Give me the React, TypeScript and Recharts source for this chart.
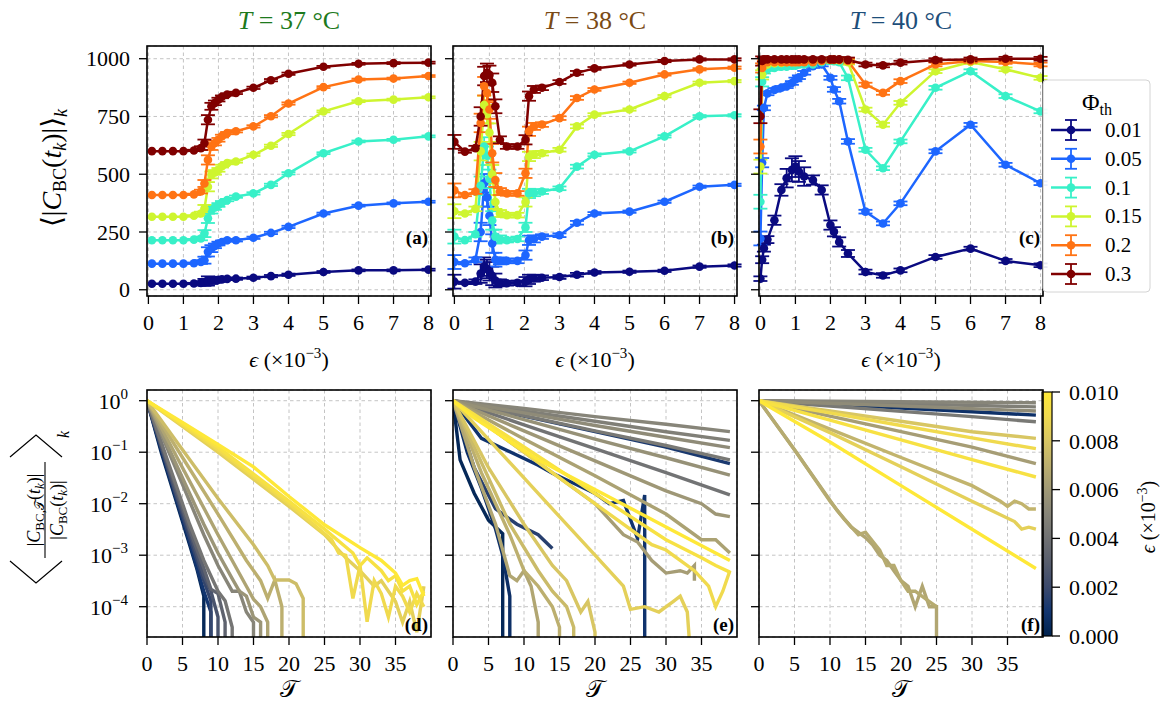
import { Bar, BarChart, CartesianGrid, ComposedChart, ErrorBar, Line, XAxis, YAxis } from 'recharts'

const SERIF = "'Liberation Serif', 'DejaVu Serif', serif"
const GRID = '#bdbdbd'
const TICK_LINE = { stroke: '#000', strokeWidth: 1.3 }

// ---------- top row: <|C_BC|> vs eps, one line per Phi_th ----------
const PHI_LABELS = ['0.01', '0.05', '0.1', '0.15', '0.2', '0.3']
const PHI_COLORS = ['#0a0a80', '#1d66ff', '#38f0c8', '#cef52f', '#ff7314', '#800000']
const EPS_TICKS = [0, 1, 2, 3, 4, 5, 6, 7, 8]
const C_TICKS = [0, 250, 500, 750, 1000]

// (a) T = 37 °C
const aEps = [0.1, 0.4, 0.7, 1.0, 1.3, 1.5, 1.6, 1.7, 1.8, 1.9, 2.0, 2.1, 2.25, 2.5, 3, 3.5, 4, 5, 6, 7, 8]
const a01 = [26, 26, 26, 26, 27, 29, 32, 38, 40, 42, 43, 45, 47, 48, 52, 59, 65, 77, 84, 84, 87]
const a05 = [113, 113, 113, 113, 115, 120, 128, 164, 178, 190, 200, 207, 214, 214, 225, 246, 272, 330, 364, 374, 381]
const a10 = [214, 214, 214, 214, 217, 222, 243, 309, 345, 356, 367, 378, 388, 403, 417, 454, 504, 591, 642, 649, 664]
const a15 = [316, 316, 316, 316, 320, 330, 352, 446, 497, 508, 519, 535, 548, 555, 584, 623, 674, 772, 816, 823, 833]
const a20 = [410, 410, 410, 410, 413, 425, 460, 562, 620, 635, 649, 665, 678, 686, 707, 751, 806, 877, 910, 914, 925]
const a30 = [600, 600, 600, 600, 603, 613, 635, 736, 794, 809, 823, 835, 845, 852, 874, 907, 935, 965, 978, 981, 983]
const aErr = [0, 0, 0, 0, 3, 8, 15, 20, 15, 10, 8, 6, 5, 5, 5, 5, 5, 4, 4, 4, 4]

// (b) T = 38 °C
const bEps = [0, 0.3, 0.6, 0.75, 0.85, 0.93, 1.0, 1.08, 1.17, 1.3, 1.5, 1.8, 2.03, 2.13, 2.27, 2.5, 3, 3.5, 4, 5, 6, 7, 8]
const b01 = [35, 30, 35, 70, 100, 90, 80, 60, 40, 30, 28, 30, 35, 45, 50, 52, 55, 65, 75, 78, 82, 100, 105]
const b05 = [120, 115, 130, 250, 461, 400, 320, 200, 130, 125, 125, 125, 150, 214, 220, 230, 236, 290, 330, 338, 381, 446, 454]
const b10 = [230, 215, 240, 450, 620, 580, 480, 300, 230, 220, 215, 220, 270, 417, 420, 425, 439, 533, 584, 599, 664, 751, 755]
const b15 = [340, 330, 350, 600, 800, 760, 680, 500, 380, 330, 323, 323, 380, 577, 585, 591, 606, 707, 758, 780, 838, 896, 903]
const b20 = [430, 410, 425, 722, 881, 852, 780, 591, 475, 425, 417, 417, 504, 686, 707, 715, 743, 830, 867, 896, 932, 954, 961]
const b30 = [640, 598, 613, 750, 925, 939, 930, 896, 794, 649, 620, 620, 649, 838, 867, 874, 899, 939, 958, 975, 990, 997, 997]
const bErr = [30, 5, 10, 40, 40, 40, 40, 40, 30, 15, 10, 10, 20, 20, 15, 10, 8, 8, 6, 5, 5, 5, 5]

// (c) T = 40 °C
const cEps = [0, 0.05, 0.1, 0.2, 0.4, 0.6, 0.75, 0.9, 1.0, 1.1, 1.25, 1.5, 1.75, 2.0, 2.1, 2.25, 2.5, 3, 3.5, 4, 5, 6, 7, 8]
const c01 = [48, 130, 180, 217, 301, 432, 483, 519, 533, 512, 490, 475, 432, 280, 251, 207, 157, 77, 62, 84, 142, 178, 125, 106]
const c05 = [222, 550, 787, 850, 865, 874, 881, 895, 910, 920, 939, 968, 975, 917, 867, 816, 642, 338, 287, 374, 599, 714, 541, 461]
const c10 = [381, 900, 946, 955, 960, 965, 965, 970, 970, 975, 975, 975, 985, 990, 990, 985, 917, 606, 526, 642, 874, 946, 838, 772]
const c15 = [533, 930, 968, 975, 980, 982, 985, 985, 985, 988, 990, 990, 990, 995, 995, 993, 985, 780, 714, 809, 946, 986, 954, 917]
const c20 = [620, 960, 983, 985, 985, 985, 985, 985, 985, 985, 985, 985, 990, 995, 995, 995, 990, 888, 852, 903, 975, 990, 986, 975]
const c30 = [751, 990, 997, 997, 997, 997, 997, 997, 997, 997, 997, 997, 997, 997, 997, 997, 995, 975, 971, 983, 994, 997, 1000, 1000]
const cErr = [30, 20, 10, 8, 8, 8, 8, 8, 8, 8, 8, 8, 8, 8, 10, 10, 10, 8, 8, 8, 8, 8, 8, 8]
const cErrNavy = [10, 15, 15, 15, 20, 25, 40, 50, 45, 45, 40, 20, 20, 20, 20, 20, 15, 10, 10, 8, 8, 8, 8, 8]

// ---------- bottom row: decay curves [T, ratio], coloured by eps ----------
const T_TICKS = [0, 5, 10, 15, 20, 25, 30, 35]
const LOG_TICKS = [1e-4, 1e-3, 1e-2, 1e-1, 1]

const d01 = [[0, 1], [2, 0.1], [4, 0.0126], [6, 1.6e-3], [7, 5.6e-4], [8, 1.6e-4], [8, 1e-6]]
const d02 = [[0, 1], [2, 0.112], [4, 0.0141], [6, 1.8e-3], [8, 2.0e-4], [9, 7.9e-5], [9, 1e-6]]
const d03 = [[0, 1], [2, 0.126], [4, 0.0158], [6, 2.2e-3], [8, 3.2e-4], [9, 1.3e-4], [9, 1e-6]]
const d04 = [[0, 1], [2, 0.13], [4, 0.0178], [6, 2.8e-3], [8, 4.0e-4], [9, 2.0e-4], [10, 6.3e-5], [10, 1e-6]]
const d05 = [[0, 1], [3, 0.056], [6, 3.2e-3], [8, 5.6e-4], [9, 2.2e-4], [10, 1.8e-4], [11, 5.0e-5], [11, 1e-6]]
const d06 = [[0, 1], [3, 0.063], [6, 4.0e-3], [8, 7.9e-4], [10, 2.0e-4], [11, 1.3e-4], [12, 4.0e-5], [12, 1e-6]]
const d07 = [[0, 1], [4, 0.05], [8, 2.5e-3], [10, 6.3e-4], [12, 2.0e-4], [13, 2.0e-4], [14, 7.9e-5], [15, 5.0e-5], [15, 1e-6]]
const d08 = [[0, 1], [4, 0.063], [8, 4.0e-3], [10, 1.1e-3], [12, 3.5e-4], [13, 2.0e-4], [14, 1.6e-4], [15, 6.3e-5], [16, 5.0e-5], [16, 1e-6]]
const d09 = [[0, 1], [5, 0.05], [10, 2.5e-3], [12, 7.9e-4], [14, 2.5e-4], [15, 1.4e-4], [16, 1.0e-4], [17, 5.0e-5], [17, 1e-6]]
const d10 = [[0, 1], [5, 0.079], [10, 6.3e-3], [14, 7.9e-4], [16, 3.2e-4], [17, 1.45e-4], [18, 3.3e-4], [19, 1.0e-4], [19, 1e-6]]
const d11 = [[0, 1], [5, 0.112], [10, 0.0126], [15, 1.6e-3], [17, 6.3e-4], [18, 3.3e-4], [20, 3.3e-4], [21, 2.8e-4], [22, 1.45e-4], [22, 1e-6]]
const d12 = [[0, 1], [10, 0.1], [20, 8.9e-3], [25, 2.5e-3], [28, 8.9e-4], [30, 5.0e-4], [32, 2.5e-4], [33, 3.2e-4], [35, 1.26e-4], [36, 5.0e-5], [37, 1.26e-4], [38, 3.2e-5], [39, 2.5e-4]]
const d13 = [[0, 1], [10, 0.112], [20, 0.01], [26, 2.0e-3], [27, 1.1e-3], [28, 1.0e-3], [29, 1.45e-4], [30, 6.3e-4], [31, 5.1e-5], [32, 3.2e-4], [33, 1.8e-4], [34, 6.3e-5], [35, 2.5e-4], [36, 1.6e-4], [37, 7.9e-5], [38, 1.8e-4], [39, 1.0e-4]]
const d14 = [[0, 1], [10, 0.126], [20, 0.0112], [25, 3.2e-3], [29, 1.1e-3], [30, 6.3e-4], [31, 8.9e-4], [33, 5.0e-4], [34, 3.2e-4], [35, 4.0e-4], [36, 2.0e-4], [37, 2.5e-4], [38, 1.1e-4], [39, 2.0e-4]]
const d15 = [[0, 1], [5, 0.38], [10, 0.141], [15, 0.052], [20, 0.0138], [25, 3.9e-3], [30, 1.4e-3], [33, 7.9e-4], [35, 4.5e-4], [36, 2.6e-4], [37, 3.2e-4], [38, 3.5e-4], [39, 1.6e-4]]
const dEps = [0.0003, 0.001, 0.0018, 0.0025, 0.0033, 0.0042, 0.005, 0.0058, 0.0065, 0.007, 0.0076, 0.0085, 0.009, 0.0095, 0.01]
const dCurves = [d01, d02, d03, d04, d05, d06, d07, d08, d09, d10, d11, d12, d13, d14, d15]

const e01 = [[0, 1], [1, 0.071], [3, 0.0158], [5, 4.8e-3], [7, 2.6e-3], [7, 1e-6]]
const e02 = [[0, 1], [2, 0.1], [4, 0.02], [6, 3.2e-3], [7, 1.0e-3], [8, 1.6e-4], [8, 1e-6]]
const e03 = [[0, 1], [4, 0.186], [12, 0.056], [14, 0.039], [17, 0.025], [20, 0.0158], [22, 0.01], [24, 0.0115], [26, 2.1e-3], [27, 0.0148], [27, 1e-6]]
const e04 = [[0, 1], [10, 0.5], [20, 0.25], [30, 0.126], [39, 0.06]]
const e05 = [[0, 1], [3, 0.05], [6, 7.9e-3], [9, 4.0e-3], [12, 2.5e-3], [14, 1.35e-3]]
const e06 = [[0, 1], [10, 0.34], [20, 0.117], [30, 0.04], [39, 0.0148]]
const e07 = [[0, 1], [10, 0.51], [20, 0.26], [30, 0.135], [39, 0.0708]]
const e08 = [[0, 1], [10, 0.63], [20, 0.4], [30, 0.25], [39, 0.17]]
const e09 = [[0, 1], [10, 0.71], [20, 0.49], [30, 0.35], [39, 0.251]]
const e10 = [[0, 1], [10, 0.58], [20, 0.33], [30, 0.195], [39, 0.123]]
const e11 = [[0, 1], [10, 0.43], [20, 0.18], [30, 0.078], [39, 0.036]]
const e12 = [[0, 1], [10, 0.26], [20, 0.068], [30, 0.0178], [35, 0.01], [37, 6.3e-3], [39, 5.6e-3]]
const e13 = [[0, 1], [10, 0.1], [20, 0.01], [24, 2.5e-3], [26, 1.8e-3], [28, 7.9e-4], [30, 4.5e-4], [32, 5.0e-4], [33, 4.5e-4], [34, 6.3e-4], [34, 3.2e-4]]
const e14 = [[0, 1], [10, 0.18], [20, 0.035], [30, 6.3e-3], [35, 2.0e-3], [37, 2.0e-3], [39, 1.1e-3]]
const e15 = [[0, 1], [3, 0.05], [6, 4.0e-3], [8, 4.0e-4], [9, 3.2e-4], [10, 5.0e-4], [11, 2.5e-4], [12, 5.0e-5], [12, 1e-6]]
const e16 = [[0, 1], [4, 0.04], [8, 2.5e-3], [10, 5.0e-4], [12, 2.5e-4], [14, 1.0e-4], [15, 4.0e-5], [15, 1e-6]]
const e17 = [[0, 1], [4, 0.063], [8, 4.0e-3], [12, 5.0e-4], [14, 2.0e-4], [16, 1.0e-4], [17, 4.0e-5], [17, 1e-6]]
const e18 = [[0, 1], [5, 0.05], [10, 4.0e-3], [14, 6.3e-4], [16, 3.2e-4], [18, 7.9e-5], [19, 1.26e-4], [20, 3.2e-5], [20, 1e-6]]
const e19 = [[0, 1], [5, 0.178], [10, 0.0316], [15, 5.6e-3], [20, 1.0e-3], [24, 2.5e-4], [25, 8.9e-5], [27, 1.0e-4], [29, 7.9e-5], [31, 1.26e-4], [32, 1.6e-4], [33, 7.9e-5], [34, 1e-6]]
const e20 = [[0, 1], [10, 0.1], [20, 0.01], [28, 1.6e-3], [30, 1.26e-3], [32, 7.9e-4], [34, 5.0e-4], [36, 2.5e-4], [37, 1.0e-4], [38, 2.0e-4], [39, 5.0e-4]]
const e21 = [[0, 1], [10, 0.126], [20, 0.0158], [30, 2.0e-3], [35, 8.9e-4], [37, 6.3e-4], [39, 4.7e-4]]
const e22 = [[0, 1], [3, 0.46], [12, 0.071], [22, 0.0135], [31, 3.0e-3], [39, 7.9e-4]]
const eEps = [0.0003, 0.0007, 0.0009, 0.0012, 0.0015, 0.0041, 0.0044, 0.0047, 0.005, 0.0053, 0.0056, 0.0059, 0.0062, 0.0064, 0.0066, 0.007, 0.0075, 0.008, 0.0085, 0.009, 0.0095, 0.01]
const eCurves = [e01, e02, e03, e04, e05, e06, e07, e08, e09, e10, e11, e12, e13, e14, e15, e16, e17, e18, e19, e20, e21, e22]

const f01 = [[0, 1], [10, 0.85], [20, 0.72], [30, 0.61], [39, 0.525]]
const f02 = [[0, 1], [10, 0.79], [20, 0.62], [30, 0.49], [39, 0.39]]
const f03 = [[0, 1], [20, 0.87], [39, 0.76]]
const f04 = [[0, 1], [20, 0.955], [39, 0.91]]
const f05 = [[0, 1], [20, 0.79], [39, 0.63]]
const f06 = [[0, 1], [10, 0.5], [20, 0.25], [30, 0.126], [39, 0.06]]
const f07 = [[0, 1], [5, 0.112], [11, 7.4e-3], [13, 3.5e-3], [15, 2.2e-3], [16, 1.6e-3], [17, 1.0e-3], [18, 7.9e-4], [19, 5.0e-4], [20, 3.2e-4], [21, 2.5e-4], [22, 1.0e-4], [23, 2.5e-4], [24, 1.0e-4], [25, 1.0e-4], [25, 4.0e-5], [25, 1e-6]]
const f08 = [[0, 1], [5, 0.112], [10, 0.0112], [12, 5.0e-3], [14, 2.5e-3], [15, 2.8e-3], [17, 1.26e-3], [18, 6.3e-4], [19, 6.3e-4], [20, 3.2e-4], [21, 2.0e-4], [22, 2.0e-4], [23, 1.58e-4], [24, 1.26e-4], [25, 1.0e-4]]
const f09 = [[0, 1], [10, 0.28], [20, 0.079], [30, 0.0224], [34, 0.0112], [35, 8.9e-3], [36, 0.0112], [37, 0.01], [38, 7.9e-3], [39, 7.9e-3]]
const f10 = [[0, 1], [10, 0.63], [20, 0.4], [30, 0.25], [39, 0.186]]
const f11 = [[0, 1], [10, 0.24], [20, 0.052], [30, 0.0112], [36, 4.5e-3], [37, 3.2e-3], [38, 3.5e-3], [39, 3.2e-3]]
const f12 = [[0, 1], [10, 0.58], [20, 0.33], [30, 0.19], [39, 0.117]]
const f13 = [[0, 1], [10, 0.42], [20, 0.174], [30, 0.072], [39, 0.033]]
const f14 = [[0, 1], [10, 0.158], [20, 0.0224], [30, 3.2e-3], [39, 5.5e-4]]
const fEps = [0.0008, 0.0044, 0.0047, 0.005, 0.0053, 0.0062, 0.0066, 0.0068, 0.0072, 0.008, 0.0085, 0.009, 0.0095, 0.01]
const fCurves = [f01, f02, f03, f04, f05, f06, f07, f08, f09, f10, f11, f12, f13, f14]

const CB_TICKS = [0, 0.002, 0.004, 0.006, 0.008, 0.01]

// cividis colormap stops at 0, 0.1, ..., 1
const CIVIDIS = [
  [0, 34, 78], [18, 53, 112], [59, 73, 108], [87, 93, 109], [112, 113, 115], [135, 133, 121],
  [160, 153, 118], [188, 175, 111], [216, 198, 99], [240, 218, 78], [254, 232, 56],
]
function cividis(f: number) {
  const p = Math.max(0, Math.min(1, f)) * 10
  const i = Math.min(9, Math.floor(p))
  const r = p - i
  const a = CIVIDIS[i]
  const b = CIVIDIS[i + 1]
  const c = a.map((v, k) => Math.round(v + (b[k] - v) * r))
  return `rgb(${c[0]},${c[1]},${c[2]})`
}

// layout
const YW = 80
const PW = 284
const LEFTS = [147, 453, 759]
const TOP_Y = 46
const TOP_H = 250
const BOT_Y = 390
const BOT_H = 247
const FS = 22
const TXT = { fontFamily: SERIF }

const noTick = () => <g />

function XTick({ x, y, payload }: any) {
  return (
    <text x={x} y={y} dy={FS * 0.71} textAnchor="middle" fill="#000" fontSize={FS} style={TXT}>{payload.value}</text>
  )
}
function YTick({ x, y, payload }: any) {
  return (
    <text x={x} y={y} dy={FS * 0.35} textAnchor="end" fill="#000" fontSize={FS} style={TXT}>{payload.value}</text>
  )
}
function CbTick({ x, y, payload }: any) {
  return (
    <text x={x} y={y} dy={FS * 0.35} textAnchor="start" fill="#000" fontSize={FS} style={TXT}>{payload.value.toFixed(3)}</text>
  )
}
function LogTick({ x, y, payload }: any) {
  const exp = Math.round(Math.log10(payload.value))
  return (
    <text x={x} y={y} dy={8} textAnchor="end" fill="#000" fontSize={FS} style={TXT}>
      10<tspan fontSize={15} dy={-10}>{exp === 0 ? '0' : `\u2212${-exp}`}</tspan>
    </text>
  )
}

function PhiPanel({ left, xs, series, err, navyErr, labels }: any) {
  const rows = xs.map((x: number, i: number) => {
    const r: any = { x, err: err[i], nerr: navyErr ? navyErr[i] : err[i] }
    series.forEach((s: number[], k: number) => { r['s' + k] = s[i] })
    return r
  })
  return (
    <div style={{ position: 'absolute', left: left - YW, top: TOP_Y - 5 }}>
      <ComposedChart width={YW + PW + 5} height={5 + TOP_H + 45} data={rows} margin={{ top: 5, right: 5, left: 0, bottom: 0 }}>
        <CartesianGrid stroke={GRID} strokeDasharray="3.5 3" strokeWidth={0.9} />
        <XAxis type="number" dataKey="x" domain={[-0.04, 8.07]} ticks={EPS_TICKS} allowDataOverflow interval={0}
          height={45} tickSize={8} tickMargin={10} axisLine={false} tickLine={TICK_LINE} tick={<XTick />} />
        <YAxis type="number" domain={[-27, 1055]} ticks={C_TICKS} allowDataOverflow interval={0}
          width={YW} tickSize={8} tickMargin={9} axisLine={false} tickLine={TICK_LINE} tick={labels ? <YTick /> : noTick} />
        {series.map((_: any, k: number) => (
          <Line key={k} type="linear" dataKey={'s' + k} stroke={PHI_COLORS[k]} strokeWidth={2.5}
            dot={{ r: 4.3, fill: PHI_COLORS[k], stroke: PHI_COLORS[k], strokeWidth: 0 }} activeDot={false} isAnimationActive={false}>
            <ErrorBar dataKey={k === 0 ? 'nerr' : 'err'} direction="y" width={7} strokeWidth={1.8} stroke={PHI_COLORS[k]} />
          </Line>
        ))}
      </ComposedChart>
    </div>
  )
}

function DecayPanel({ left, curves, eps, labels }: any) {
  return (
    <div style={{ position: 'absolute', left: left - YW, top: BOT_Y - 5 }}>
      <ComposedChart width={YW + PW + 5} height={5 + BOT_H + 45} margin={{ top: 5, right: 5, left: 0, bottom: 0 }}>
        <CartesianGrid stroke={GRID} strokeDasharray="3.5 3" strokeWidth={0.9} />
        <XAxis type="number" dataKey="t" domain={[0, 40]} ticks={T_TICKS} allowDataOverflow interval={0}
          height={45} tickSize={8} tickMargin={10} axisLine={false} tickLine={TICK_LINE} tick={<XTick />} />
        <YAxis type="number" scale="log" domain={[2.58e-5, 1.614]} ticks={LOG_TICKS} allowDataOverflow interval={0}
          width={YW} tickSize={8} tickMargin={11} axisLine={false} tickLine={TICK_LINE} tick={labels ? <LogTick /> : noTick} />
        {curves.map((pts: number[][], i: number) => (
          <Line key={i} type="linear" data={pts.map(([t, v]) => ({ t, v }))} dataKey="v" stroke={cividis(eps[i] / 0.01)}
            strokeWidth={3.4} dot={false} activeDot={false} isAnimationActive={false} />
        ))}
      </ComposedChart>
    </div>
  )
}

function Colorbar() {
  return (
    <div style={{ position: 'absolute', left: 1042, top: 392 - 16 }}>
      <BarChart width={110} height={244 + 32} data={[{ k: 'cb', v: 0.01 }]} margin={{ top: 16, right: 0, bottom: 16, left: 0 }} barCategoryGap={0}>
        <defs>
          <linearGradient id="cbGrad" x1="0" y1="1" x2="0" y2="0">
            {CIVIDIS.map((c, i) => <stop key={i} offset={`${i * 10}%`} stopColor={`rgb(${c[0]},${c[1]},${c[2]})`} />)}
          </linearGradient>
        </defs>
        <XAxis dataKey="k" hide />
        <YAxis orientation="right" type="number" domain={[0, 0.01]} ticks={CB_TICKS} interval={0} width={100}
          tickSize={8} tickMargin={9} axisLine={false} tickLine={TICK_LINE} tick={<CbTick />} />
        <Bar dataKey="v" fill="url(#cbGrad)" isAnimationActive={false} />
      </BarChart>
    </div>
  )
}

function Overlay() {
  const titles = [
    { t: '37', c: '#1d7a1d' },
    { t: '38', c: '#7a4a16' },
    { t: '40', c: '#1d4e7a' },
  ]
  const letters = ['(a)', '(b)', '(c)', '(d)', '(e)', '(f)']
  return (
    <svg width={1167} height={707} style={{ position: 'absolute', left: 0, top: 0, pointerEvents: 'none', fontFamily: SERIF }}>
      {LEFTS.map((l) => (
        <g key={l}>
          <rect x={l} y={TOP_Y} width={PW} height={TOP_H} fill="none" stroke="#000" strokeWidth={1.6} />
          <rect x={l} y={BOT_Y} width={PW} height={BOT_H} fill="none" stroke="#000" strokeWidth={1.6} />
        </g>
      ))}
      {titles.map((ti, i) => (
        <text key={i} x={LEFTS[i] + PW / 2} y={29} textAnchor="middle" fontSize={26} fill={ti.c} style={TXT}>
          <tspan fontStyle="italic">T</tspan> = {ti.t} °C
        </text>
      ))}
      {letters.map((s, i) => (
        <text key={s} x={LEFTS[i % 3] + PW - 3} y={i < 3 ? 244 : 631} textAnchor="end" fontSize={19} fontWeight="bold" style={TXT}>{s}</text>
      ))}
      {LEFTS.map((l) => (
        <text key={'xl' + l} x={l + PW / 2} y={367} textAnchor="middle" fontSize={22} style={TXT}>
          <tspan fontStyle="italic">ϵ</tspan> (×10<tspan fontSize={15} dy={-9}>−3</tspan><tspan dy={9}>)</tspan>
        </text>
      ))}
      {LEFTS.map((l) => (
        <text key={'tl' + l} x={l + PW / 2} y={697} textAnchor="middle" fontSize={24} style={{ fontFamily: "'DejaVu Serif', 'DejaVu Sans', serif" }}>𝒯</text>
      ))}
      {/* top y label */}
      <text transform="translate(61,168) rotate(-90)" textAnchor="middle" fontSize={28} style={TXT}>
        ⟨|<tspan fontStyle="italic">C</tspan><tspan fontSize={18} dy={5}>BC</tspan><tspan dy={-5}>(</tspan><tspan fontStyle="italic">t</tspan><tspan fontSize={18} dy={5} fontStyle="italic">k</tspan><tspan dy={-5}>)|⟩</tspan><tspan fontSize={18} dy={6} fontStyle="italic">k</tspan>
      </text>
      {/* bottom y label: <|C_BC,T(t_k)| / |C_BC(t_k)|>_k */}
      <g transform="translate(45,510) rotate(-90)">
        <line x1={-48} y1={0} x2={48} y2={0} stroke="#000" strokeWidth={1.1} />
        <text x={0} y={-5} textAnchor="middle" fontSize={18} style={TXT}>
          |<tspan fontStyle="italic">C</tspan><tspan fontSize={13} dy={4}>BC,𝒯</tspan><tspan dy={-4}>(</tspan><tspan fontStyle="italic">t</tspan><tspan fontSize={13} dy={4} fontStyle="italic">k</tspan><tspan dy={-4}>)|</tspan>
        </text>
        <text x={0} y={18} textAnchor="middle" fontSize={18} style={TXT}>
          |<tspan fontStyle="italic">C</tspan><tspan fontSize={13} dy={4}>BC</tspan><tspan dy={-4}>(</tspan><tspan fontStyle="italic">t</tspan><tspan fontSize={13} dy={4} fontStyle="italic">k</tspan><tspan dy={-4}>)|</tspan>
        </text>
        <polyline points="-51,-35 -73,-9 -51,17" fill="none" stroke="#000" strokeWidth={1.2} />
        <polyline points="53,-35 75,-9 53,17" fill="none" stroke="#000" strokeWidth={1.2} />
        <text x={72} y={24} fontSize={16} fontStyle="italic" style={TXT}>k</text>
      </g>
      {/* colorbar frame + label */}
      <rect x={1042} y={392} width={10} height={244} fill="none" stroke="#000" strokeWidth={1.2} />
      <text transform="translate(1155,517) rotate(-90)" textAnchor="middle" fontSize={20} style={TXT}>
        <tspan fontStyle="italic">ϵ</tspan> (×10<tspan fontSize={14} dy={-8}>−3</tspan><tspan dy={8}>)</tspan>
      </text>
      {/* legend */}
      <rect x={1043} y={80} width={107} height={212} rx={4} fill="#fff" fillOpacity={0.9} stroke="#d4d4d4" />
      <text x={1097} y={110} textAnchor="middle" fontSize={24} style={TXT}>Φ<tspan fontSize={16} dy={5}>th</tspan></text>
      {PHI_LABELS.map((lab, k) => {
        const y = 130 + k * 28.8
        const c = PHI_COLORS[k]
        return (
          <g key={lab}>
            <line x1={1051} y1={y} x2={1091} y2={y} stroke={c} strokeWidth={2.5} />
            <line x1={1071} y1={y - 10} x2={1071} y2={y + 10} stroke={c} strokeWidth={1.8} />
            <line x1={1065} y1={y - 10} x2={1077} y2={y - 10} stroke={c} strokeWidth={1.8} />
            <line x1={1065} y1={y + 10} x2={1077} y2={y + 10} stroke={c} strokeWidth={1.8} />
            <circle cx={1071} cy={y} r={4.3} fill={c} />
            <text x={1105} y={y + 7} fontSize={21} style={TXT}>{lab}</text>
          </g>
        )
      })}
    </svg>
  )
}

export default function App() {
  return (
    <div style={{ position: 'absolute', left: 0, top: 0, width: 1167, height: 707, background: '#fff', fontFamily: SERIF }}>
      <PhiPanel left={LEFTS[0]} xs={aEps} series={[a01, a05, a10, a15, a20, a30]} err={aErr} labels />
      <PhiPanel left={LEFTS[1]} xs={bEps} series={[b01, b05, b10, b15, b20, b30]} err={bErr} />
      <PhiPanel left={LEFTS[2]} xs={cEps} series={[c01, c05, c10, c15, c20, c30]} err={cErr} navyErr={cErrNavy} />
      <DecayPanel left={LEFTS[0]} curves={dCurves} eps={dEps} labels />
      <DecayPanel left={LEFTS[1]} curves={eCurves} eps={eEps} />
      <DecayPanel left={LEFTS[2]} curves={fCurves} eps={fEps} />
      <Colorbar />
      <Overlay />
    </div>
  )
}
